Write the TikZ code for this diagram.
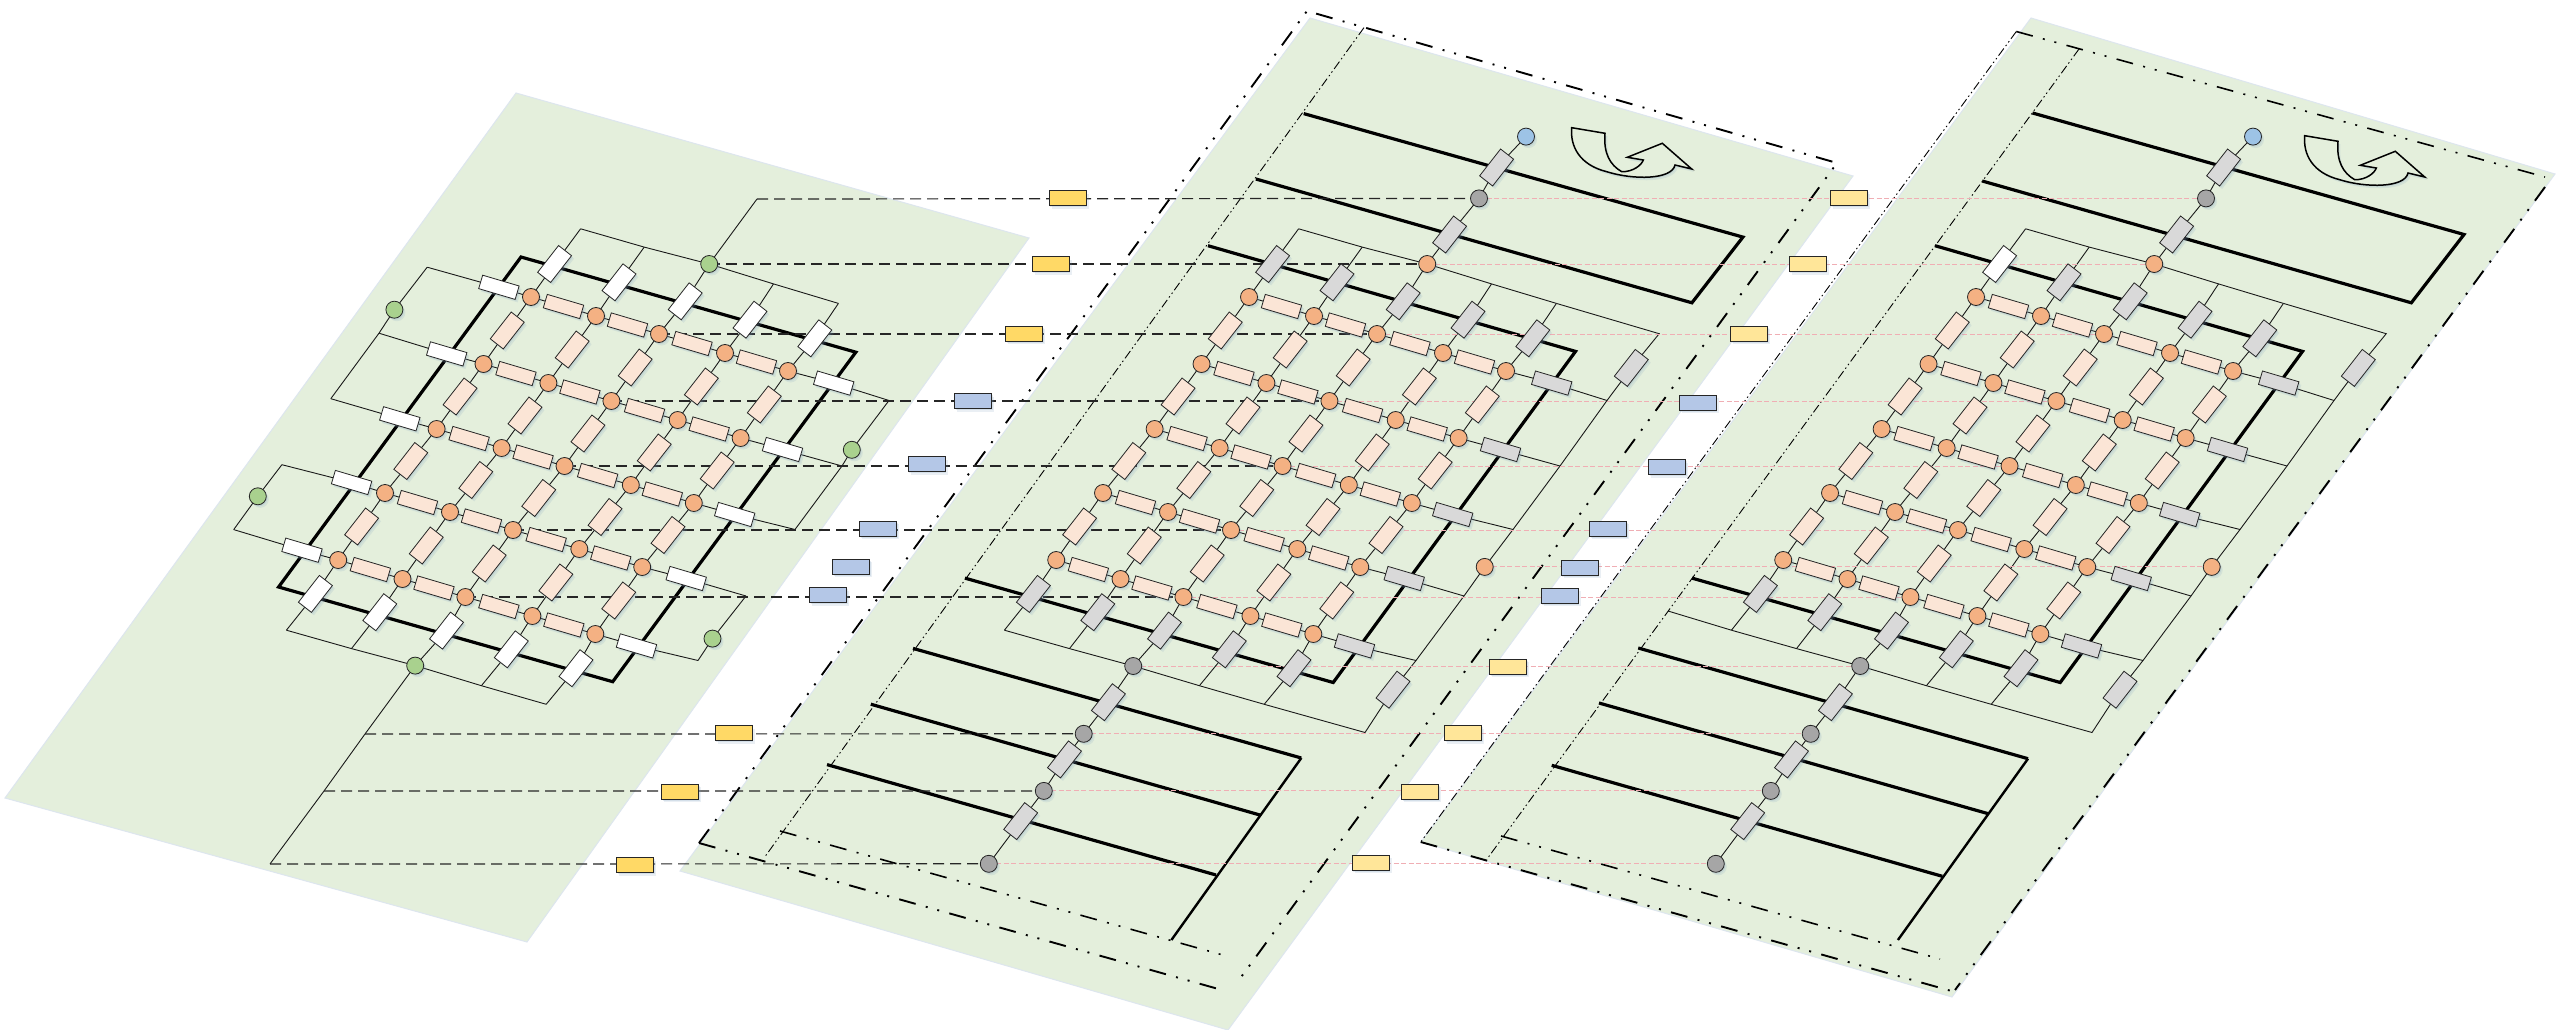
\documentclass[tikz,border=0pt]{standalone}
\usetikzlibrary{calc,shadows}
\definecolor{panelc}{HTML}{E4EFDC}
\definecolor{paneledge}{HTML}{DDE6EE}
\definecolor{pinkbox}{HTML}{FBE5D6}
\definecolor{orangepad}{HTML}{F4B183}
\definecolor{graybox}{HTML}{D9D9D9}
\definecolor{graypad}{HTML}{A6A6A6}
\definecolor{greenpad}{HTML}{A9D18E}
\definecolor{bluepad}{HTML}{9DC3E6}
\definecolor{goldbox}{HTML}{FFD966}
\definecolor{paleGold}{HTML}{FFE699}
\definecolor{bluebox}{HTML}{B4C7E7}
\definecolor{linkpink}{HTML}{F0AEB4}
\definecolor{shadeblue}{HTML}{7F9FBF}
\pgfdeclarelayer{back}\pgfdeclarelayer{wire}
\pgfsetlayers{back,wire,main}
\tikzset{
  softshadow/.style={drop shadow={shadow xshift=2.5pt,shadow yshift=-3pt,fill=shadeblue,opacity=.16},
                     drop shadow={shadow xshift=1.2pt,shadow yshift=-1.5pt,fill=shadeblue,opacity=.2}},
  pad/.style={circle,draw=black!85,line width=.8pt,inner sep=0pt,minimum size=17pt,softshadow},
  hbox/.style={rectangle,draw=black!85,line width=.8pt,inner sep=0pt,minimum width=38pt,minimum height=14pt,rotate=-16.5,softshadow},
  vbox/.style={rectangle,draw=black!85,line width=.8pt,inner sep=0pt,minimum width=34pt,minimum height=16.5pt,rotate=52,softshadow},
  gapbox/.style={rectangle,draw=black!85,line width=1pt,inner sep=0pt,minimum width=37pt,minimum height=15pt,softshadow},
  wirel/.style={line width=.9pt,draw=black!90},
  heavy/.style={line width=3.2pt,draw=black,line join=miter},
  heavym/.style={line width=2.4pt,draw=black,line join=miter},
  darkdash/.style={line width=1.2pt,draw=black!85,dash pattern=on 11pt off 6pt},
  pinkdash/.style={line width=1pt,draw=linkpink,dash pattern=on 5pt off 2.5pt},
  borderdash/.style={line width=1.9pt,draw=black,dash pattern=on 17pt off 10.5pt on 2pt off 10pt on 2pt off 10.5pt},
  thindash/.style={line width=.9pt,draw=black,dash pattern=on 9pt off 3pt on 1.5pt off 3pt on 1.5pt off 3pt},
  panelshape/.style={fill=panelc,draw=paneledge,line width=1pt},
  turnarrow/.style={line width=1.5pt,draw=black,fill=panelc,line join=miter,softshadow}
}
% the grid and its four rows of boxes, common to all three panels
\newcommand{\netcore}[3]{%
  \foreach \r/\c/\x/\y in {1/1/531/297,1/2/596/316,1/3/659/334,1/4/725/353,1/5/788/371,
    2/1/483.5/364,2/2/548.4/383,2/3/611.4/401,2/4/677.7/420,2/5/740.6/438,
    3/1/436.6/429,3/2/501.6/448,3/3/564.5/466,3/4/630.8/485,3/5/693.8/503,
    4/1/385/493,4/2/450/512,4/3/513/530,4/4/579.3/549,4/5/642.2/567,
    5/1/338.2/560,5/2/402.5/579,5/3/465.4/597,5/4/532.4/616,5/5/595.3/634}
    {\node[pad,fill=orangepad] (o\r\c) at (\x,\y) {};}
  \foreach \r in {1,...,5}{\foreach \c/\d in {1/2,2/3,3/4,4/5}{
    \node[hbox,fill=pinkbox] (h\r\c) at ($(o\r\c)!.5!(o\r\d)$) {};
    \begin{pgfonlayer}{wire}\draw[wirel] (o\r\c.center) -- (h\r\c.center) -- (o\r\d.center);\end{pgfonlayer}}}
  \foreach \c in {1,...,5}{\foreach \r/\s in {1/2,2/3,3/4,4/5}{
    \node[vbox,fill=pinkbox] (v\r\c) at ($(o\r\c)!.5!(o\s\c)$) {};
    \begin{pgfonlayer}{wire}\draw[wirel] (o\r\c.center) -- (v\r\c.center) -- (o\s\c.center);\end{pgfonlayer}}}
  % top boxes and ends
  \node[vbox,fill=#2] (tb1) at (554.6,264) {};
  \foreach \c/\x/\y in {2/619/282.3,3/685.2/301.3,4/750/319.7,5/814.8/338.3}{\node[vbox,fill=#1] (tb\c) at (\x,\y) {};}
  \foreach \c/\x/\y in {1/580.6/228.8,2/644.2/247.1,4/773.5/283.9,5/838.4/303.4}{\coordinate (T\c) at (\x,\y);}
  \node[pad,fill=#3] (T3) at (709.2,264) {};
  % bottom boxes and ends
  \foreach \c/\x/\y in {1/315.4/593.9,2/379.8/612.2,3/446.5/630.6,4/511.3/649.3,5/576/668.2}{\node[vbox,fill=#1] (bb\c) at (\x,\y) {};}
  \foreach \c/\x/\y in {1/286.4/630.2,2/351.5/648.6,4/481.4/685.7,5/546.2/704.3}{\coordinate (B\c) at (\x,\y);}
  % right boxes and ends
  \foreach \r/\x/\y in {1/833.7/383.1,2/782.5/449.5,3/734.7/514.5,4/686.2/578.5,5/636.5/645.9}{\node[hbox,fill=#1] (rb\r) at (\x,\y) {};}
  \foreach \r/\x/\y in {1/889/400.5,2/842/466,3/795/529.5,4/746/596,5/698/660.5}{\coordinate (R\r) at (\x,\y);}
  \begin{pgfonlayer}{wire}
    \foreach \c in {1,...,5}{\draw[wirel] (o1\c.center) -- (tb\c.center) -- (T\c.center);}
    \foreach \r in {1,...,5}{\draw[wirel] (o\r5.center) -- (rb\r.center) -- (R\r.center);}
    \draw[wirel] (T1.center) -- (T2.center) -- (T3.center) -- (T4.center) -- (T5.center);
  \end{pgfonlayer}
}
\newcommand{\netbottom}{%
  \begin{pgfonlayer}{wire}
    \foreach \c in {1,...,5}{\draw[wirel] (o5\c.center) -- (bb\c.center) -- (B\c.center);}
    \draw[wirel] (B1.center) -- (B2.center) -- (B3.center) -- (B4.center) -- (B5.center);
  \end{pgfonlayer}
}
% the extra column, the long middle column and the far right line of panels 2 and 3
\newcommand{\netextra}{%
  \node[pad,fill=graypad] (B3) at (415.2,666) {};
  \netbottom
  \node[vbox,fill=graybox] (u1) at (731.6,234.5) {};
  \node[pad,fill=graypad] (U) at (761,198.4) {};
  \node[vbox,fill=graybox] (u2) at (778.6,167.5) {};
  \node[pad,fill=bluepad] (S) at (808,136.6) {};
  \node[vbox,fill=graybox] (d1) at (390.4,702.2) {};
  \node[pad,fill=graypad] (D1) at (365.7,733.8) {};
  \node[vbox,fill=graybox] (d2) at (346.5,759.4) {};
  \node[pad,fill=graypad] (D2) at (325.8,790.9) {};
  \node[vbox,fill=graybox] (d3) at (302.7,821.1) {};
  \node[pad,fill=graypad] (D3) at (270.8,863.8) {};
  \coordinate (F) at (941.2,333.7);
  \coordinate (Z) at (647,732.5);
  \node[vbox,fill=graybox] (f1) at (913.3,367.9) {};
  \node[pad,fill=orangepad] (Q) at (766.7,566.9) {};
  \node[vbox,fill=graybox] (f2) at (675,689.7) {};
  \begin{pgfonlayer}{wire}
    \draw[wirel] (T3.center) -- (u1.center) -- (U.center) -- (u2.center) -- (S.center);
    \draw[wirel] (B3.center) -- (d1.center) -- (D1.center) -- (d2.center) -- (D2.center) -- (d3.center) -- (D3.center);
    \draw[wirel] (T5.center) -- (F) -- (f1.center) -- (R1.center) -- (R2.center) -- (R3.center) -- (Q.center) -- (R4.center) -- (R5.center) -- (f2.center) -- (Z) -- (B5.center);
    \draw[heavy] (490,245.7) -- (857.5,351.4) -- (615.2,682.5) -- (246.9,578.1);
  \end{pgfonlayer}
}
\newcommand{\turnshape}{%
  \draw[turnarrow] (1571.7,127.7) -- (1605,133.3)
    .. controls (1603.3,153.3) and (1610,165) .. (1621.7,171.7)
    .. controls (1633,172) and (1641.7,165) .. (1643.3,160)
    -- (1627.3,157.3) -- (1662.3,143.3) -- (1691.7,169) -- (1675,165)
    .. controls (1671.7,180) and (1633,180) .. (1606.7,171.7)
    .. controls (1580,165) and (1570,147) .. (1571.7,127.7) -- cycle;
}
\begin{document}
\begin{tikzpicture}[x=1pt,y=-1pt]
\useasboundingbox (0,0) rectangle (2560,1030);
% panels
\begin{pgfonlayer}{back}
  \fill[white] (0,0) rectangle (2560,1030);
  \draw[panelshape] (516,93) -- (1029,238) -- (527,942) -- (5,798) -- cycle;
  \draw[panelshape] (1310,18) -- (1853,176) -- (1228,1030) -- (680,871) -- cycle;
  \draw[panelshape] (2031,18) -- (2555,174) -- (1952,997) -- (1421,842) -- cycle;
\end{pgfonlayer}
% panel 1
\begin{scope}[name prefix=a-]
  \netcore{white}{white}{greenpad}
  \node[pad,fill=greenpad] (B3) at (415.2,665.6) {};
  \netbottom
  \foreach \r/\x/\y in {1/498.9/287.3,2/446.7/353.9,3/399.8/418.8,4/351.6/482.5,5/302/550.2}{\node[hbox,fill=white] (lb\r) at (\x,\y) {};}
  \foreach \r/\x/\y in {1/427.2/267.2,2/379/333.2,3/330.8/398.7,4/281.9/464.7,5/233.7/529.6}{\coordinate (L\r) at (\x,\y);}
  \node[pad,fill=greenpad] (g1) at (394.4,309.7) {};
  \node[pad,fill=greenpad] (g2) at (257.8,496.3) {};
  \node[pad,fill=greenpad] (g3) at (851.8,449.8) {};
  \node[pad,fill=greenpad] (g4) at (712.5,638.6) {};
  \coordinate (X) at (757,199);
  \coordinate (C1) at (365,734);
  \coordinate (C2) at (324,791);
  \coordinate (C3) at (270,864);
  \begin{pgfonlayer}{wire}
    \draw[heavy] (521,257) -- (855.8,352.2) -- (612.7,681.7) -- (278.6,587) -- cycle;
    \foreach \r in {1,...,5}{\draw[wirel] (o\r1.center) -- (lb\r.center) -- (L\r.center);}
    \draw[wirel] (L1.center) -- (g1.center) -- (L2.center) -- (L3.center);
    \draw[wirel] (L4.center) -- (g2.center) -- (L5.center);
    \draw[wirel] (R1.center) -- (g3.center) -- (R2.center) -- (R3.center);
    \draw[wirel] (R4.center) -- (g4.center) -- (R5.center);
    \draw[wirel] (T3.center) -- (X);
    \draw[wirel] (B3.center) -- (C1) -- (C2) -- (C3);
  \end{pgfonlayer}
\end{scope}
% panel 2
\begin{scope}[shift={(718,0)},name prefix=b-]
  \netcore{graybox}{graybox}{orangepad}
  \netextra
\end{scope}
\begin{pgfonlayer}{wire}
  \draw[heavy] (1303.7,113.6) -- (1742.9,237.1) -- (1691.9,302.8) -- (1255.9,179);
  \draw[heavy] (913,648.4) -- (1301.3,758);
  \draw[heavym] (1301.3,758) -- (1171.4,940);
  \draw[heavy] (870.8,704.2) -- (1260.6,815.2);
  \draw[heavy] (827,764.6) -- (1216,875);
  \draw[borderdash] (699,843) -- (1307,11) -- (1837,163) -- (1236,984);
  \draw[borderdash] (699,843) -- (1222,990);
  \draw[thindash] (1364,27.6) -- (764,858);
  \draw[borderdash,line width=1.6pt] (780,831) -- (1221,954.5);
\end{pgfonlayer}
\turnshape
% panel 3
\begin{scope}[shift={(1445,0)},name prefix=c-]
  \netcore{graybox}{white}{orangepad}
  \netextra
  \coordinate (E) at (223,611);
  \begin{pgfonlayer}{wire}\draw[wirel] (E) -- (B1.center);\end{pgfonlayer}
\end{scope}
\begin{pgfonlayer}{wire}
  \draw[heavy] (2032.5,113) -- (2464,234.5) -- (2411.3,302.8) -- (1982.2,181);
  \draw[heavy] (1638.2,648) -- (2028,758.7);
  \draw[heavym] (2028,758.7) -- (1897.9,940);
  \draw[heavy] (1599,703) -- (1988.9,813.9);
  \draw[heavy] (1551.7,765.3) -- (1942.3,876.3);
  \draw[thindash] (2016.3,31.5) -- (1420.7,842);
  \draw[borderdash,line width=1.6pt] (2016.3,31.5) -- (2545,177);
  \draw[borderdash] (2545,187) -- (1955,990);
  \draw[borderdash] (1420.7,842) -- (1955,992);
  \draw[thindash] (2079,49) -- (1487,859);
  \draw[borderdash,line width=1.6pt] (1501,836) -- (1940,959);
\end{pgfonlayer}
\begin{scope}[shift={(733,8)}]
  \turnshape
\end{scope}
% long links
\begin{pgfonlayer}{wire}
  \draw[darkdash] (a-X) -- (b-U.center);
  \draw[darkdash] (a-T3.center) -- (b-T3.center);
  \foreach \r in {1,...,5}{\draw[darkdash] (a-o\r3.center) -- (b-o\r3.center);
                           \draw[pinkdash] (b-o\r3.center) -- (c-o\r3.center);}
  \draw[darkdash] (a-C1) -- (b-D1.center);
  \draw[darkdash] (a-C2) -- (b-D2.center);
  \draw[darkdash] (a-C3) -- (b-D3.center);
  \draw[pinkdash] (b-U.center) -- (c-U.center);
  \draw[pinkdash] (b-T3.center) -- (c-T3.center);
  \draw[pinkdash] (b-Q.center) -- (c-Q.center);
  \draw[pinkdash] (b-B3.center) -- (c-B3.center);
  \draw[pinkdash] (b-D1.center) -- (c-D1.center);
  \draw[pinkdash] (b-D2.center) -- (c-D2.center);
  \draw[pinkdash] (b-D3.center) -- (c-D3.center);
\end{pgfonlayer}
% link boxes
\foreach \n/\x/\y in {1/1067.6/198.4,2/1050.6/264.4,3/1024/333.7,9/733.7/733,10/680.3/791.6,11/634.8/865}
  {\node[gapbox,fill=goldbox] (ga\n) at (\x,\y) {};}
\foreach \n/\x/\y in {4/972.9/401.4,5/926.6/464.4,6/878/528.8,7/850.9/566.9,8/827.8/595.2}
  {\node[gapbox,fill=bluebox] (ga\n) at (\x,\y) {};}
\foreach \n/\x/\y in {1/1849/198.4,2/1807.5/264,3/1749.3/333.7,9/1507.8/666.8,10/1463.1/733,11/1420.1/791.6,12/1370.7/862.5}
  {\node[gapbox,fill=paleGold] (gb\n) at (\x,\y) {};}
\foreach \n/\x/\y in {4/1697.5/402.7,5/1667.2/467,6/1608.2/528.8,7/1579.5/567.6,8/1559.6/595.8}
  {\node[gapbox,fill=bluebox] (gb\n) at (\x,\y) {};}
\end{tikzpicture}
\end{document}
